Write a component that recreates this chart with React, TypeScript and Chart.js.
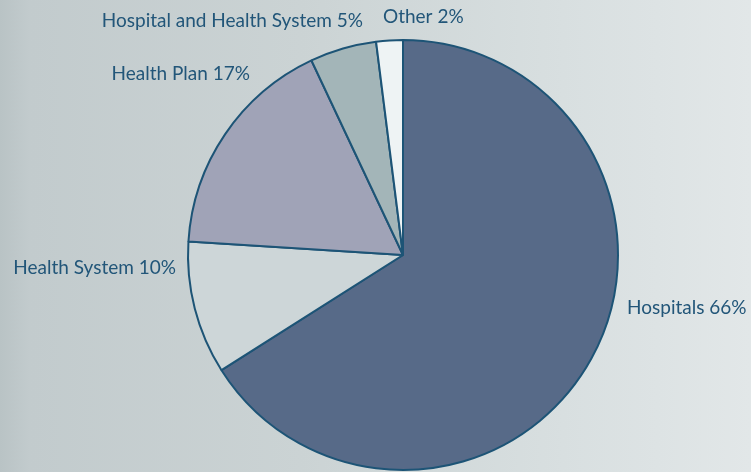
import React, { useEffect, useRef } from "react";
import { Chart, registerables } from "chart.js";

Chart.register(...registerables);

const categories = ["Hospitals", "Health System", "Health Plan", "Hospital and Health System", "Other"];
const shares = [66, 10, 17, 5, 2];
const sliceColors = ["#576a88", "#cdd6d8", "#a0a3b7", "#a3b5b8", "#eef3f4"];

// label placement relative to pie centre, in units of radius, plus text alignment
const labelPlacement = [
  { dx: 1.042, dy: 0.247, align: "left" },
  { dx: -1.056, dy: 0.06, align: "right" },
  { dx: -0.712, dy: -0.842, align: "right" },
  { dx: -0.186, dy: -1.088, align: "right" },
  { dx: -0.093, dy: -1.107, align: "left" },
];

const labelPlugin = {
  id: "outerLabels",
  afterDraw(chart: any) {
    const meta = chart.getDatasetMeta(0);
    const ctx = chart.ctx;
    ctx.save();
    ctx.font = '19px "Lato", "Open Sans", sans-serif';
    ctx.fillStyle = "#225679";
    ctx.textBaseline = "middle";
    meta.data.forEach((arc: any, i: number) => {
      const p = labelPlacement[i];
      const r = arc.outerRadius;
      ctx.textAlign = p.align;
      ctx.fillText(`${categories[i]} ${shares[i]}%`, arc.x + p.dx * r, arc.y + p.dy * r);
    });
    ctx.restore();
  },
};

export default function App() {
  const ref = useRef<HTMLCanvasElement>(null);
  useEffect(() => {
    document.body.style.margin = "0";
    const chart = new Chart(ref.current!, {
      type: "pie",
      data: {
        labels: categories,
        datasets: [
          {
            data: shares,
            backgroundColor: sliceColors,
            borderColor: "#1d5476",
            borderWidth: 2,
          },
        ],
      },
      options: {
        responsive: false,
        animation: false,
        layout: { padding: { top: 39, bottom: 1, left: 55, right: 0 } },
        plugins: { legend: { display: false }, tooltip: { enabled: false } },
      },
      plugins: [labelPlugin],
    });
    return () => chart.destroy();
  }, []);
  return (
    <div
      style={{
        position: "fixed",
        left: 0,
        top: 0,
        width: 751,
        height: 472,
        background: "linear-gradient(to right, #b9c3c5 0%, #c2cbcd 4%, #cbd3d4 40%, #d8dfe0 75%, #e2e7e8 100%)",
      }}
    >
      <canvas ref={ref} width={751} height={472} style={{ display: "block" }} />
    </div>
  );
}
